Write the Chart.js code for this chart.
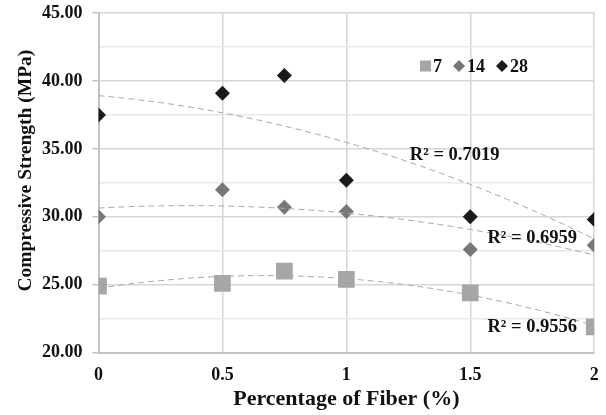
<!DOCTYPE html>
<html>
<head>
<meta charset="utf-8">
<script src="https://cdn.jsdelivr.net/npm/chart.js@4"></script>
<style>
  html, body { margin: 0; padding: 0; background: #fff; }
  #wrap { width: 606px; height: 415px; }
</style>
</head>
<body>
<div id="wrap"><canvas id="strengthChart" width="606" height="415"></canvas></div>
<script>
// data
let fiberPct = [0, 0.5, 0.75, 1, 1.5, 2]
let strength7 = [24.9, 25.1, 26.0, 25.4, 24.4, 21.9]
let strength14 = [30.0, 32.0, 30.7, 30.4, 27.6, 27.9]
let strength28 = [37.5, 39.1, 40.4, 32.7, 30.0, 29.8]
let seriesNames = ["7", "14", "28"]
let rSquared = ["0.9556", "0.6959", "0.7019"]
let xTicks = [0, 0.5, 1, 1.5, 2]

let FONT = "'Liberation Serif', 'Times New Roman', serif"

// least squares 2nd order fit (same as the excel trendline)
function polyFit2(xs, ys) {
	let s = [0, 0, 0, 0, 0], t = [0, 0, 0]
	for (let i = 0; i < xs.length; i++) {
		for (let k = 0; k < 5; k++) s[k] += Math.pow(xs[i], k)
		for (let k = 0; k < 3; k++) t[k] += ys[i] * Math.pow(xs[i], k)
	}
	let m = [[s[0], s[1], s[2], t[0]], [s[1], s[2], s[3], t[1]], [s[2], s[3], s[4], t[2]]]
	for (let c = 0; c < 3; c++) {
		for (let r = c + 1; r < 3; r++) {
			let f = m[r][c] / m[c][c]
			for (let k = c; k < 4; k++) m[r][k] -= f * m[c][k]
		}
	}
	let a = [0, 0, 0]
	for (let r = 2; r >= 0; r--) {
		let v = m[r][3]
		for (let k = r + 1; k < 3; k++) v -= m[r][k] * a[k]
		a[r] = v / m[r][r]
	}
	return a
}

function trendPoints(ys) {
	let a = polyFit2(fiberPct, ys)
	let pts = []
	let x0 = fiberPct[0], x1 = fiberPct[fiberPct.length - 1]
	for (let i = 0; i <= 80; i++) {
		let x = x0 + (x1 - x0) * i / 80
		pts.push({ x: x, y: a[0] + a[1] * x + a[2] * x * x })
	}
	return pts
}

function toPoints(ys) {
	return fiberPct.map((x, i) => ({ x: x, y: ys[i] }))
}

let trendStyle = {
	type: 'line',
	showLine: true,
	borderColor: '#a8a8a8',
	borderWidth: 1,
	borderDash: [6, 4],
	pointRadius: 0,
	fill: false,
	tension: 0
}

// R² boxes + the little legend in the top right
let labelPlugin = {
	id: 'labels',
	afterDraw(chart) {
		let ctx = chart.ctx
		let xs = chart.scales.x, ys = chart.scales.y
		ctx.save()
		ctx.fillStyle = '#111'
		ctx.font = "bold 18.5px " + FONT
		ctx.textBaseline = 'middle'
		ctx.textAlign = 'center'
		let spots = [[1.75, 21.9], [1.75, 28.4], [1.437, 34.55]]
		rSquared.forEach((r, i) => {
			ctx.fillText("R² = " + r, xs.getPixelForValue(spots[i][0]), ys.getPixelForValue(spots[i][1]))
		})

		let ly = 66
		ctx.font = "bold 18px " + FONT
		ctx.textAlign = 'left'
		ctx.fillStyle = '#a6a6a6'
		ctx.fillRect(420, ly - 5.5, 11, 11)
		ctx.fillStyle = '#111'
		ctx.fillText(seriesNames[0], 433, ly + 1)
		let diamond = (cx, col) => {
			ctx.fillStyle = col
			ctx.beginPath()
			ctx.moveTo(cx - 6, ly); ctx.lineTo(cx, ly - 6); ctx.lineTo(cx + 6, ly); ctx.lineTo(cx, ly + 6)
			ctx.closePath(); ctx.fill()
		}
		diamond(459, '#777777')
		ctx.fillStyle = '#111'
		ctx.fillText(seriesNames[1], 467, ly + 1)
		diamond(502, '#1a1a1a')
		ctx.fillStyle = '#111'
		ctx.fillText(seriesNames[2], 510, ly + 1)
		ctx.restore()
	}
}

let ctx1 = document.getElementById("strengthChart").getContext('2d')
let strengthChart = new Chart(ctx1, {
	type: 'scatter',
	data: {
		datasets: [
			Object.assign({ label: 'trend ' + seriesNames[0], data: trendPoints(strength7) }, trendStyle),
			Object.assign({ label: 'trend ' + seriesNames[1], data: trendPoints(strength14) }, trendStyle),
			Object.assign({ label: 'trend ' + seriesNames[2], data: trendPoints(strength28) }, trendStyle),
			{
				label: seriesNames[0],
				data: toPoints(strength7),
				pointStyle: 'rect',
				pointRadius: 11.8,
				backgroundColor: '#a6a6a6',
				borderWidth: 0
			}, {
				label: seriesNames[1],
				data: toPoints(strength14),
				pointStyle: 'rectRot',
				pointRadius: 7.5,
				backgroundColor: '#777777',
				borderWidth: 0
			}, {
				label: seriesNames[2],
				data: toPoints(strength28),
				pointStyle: 'rectRot',
				pointRadius: 7.5,
				backgroundColor: '#1a1a1a',
				borderWidth: 0
			}
		]
	},
	options: {
		responsive: false,
		animation: false,
		layout: { padding: { left: 8, right: 11.5, top: 13, bottom: 0 } },
		plugins: {
			legend: { display: false },
			tooltip: { enabled: false }
		},
		scales: {
			x: {
				type: 'linear',
				min: 0,
				max: 2,
				afterBuildTicks: (axis) => { axis.ticks = xTicks.map(v => ({ value: v })) },
				afterFit: (axis) => { axis.height = 62.3 },
				// tick marks hidden, their length just pushes the labels down
				grid: { color: '#d6d6d6', lineWidth: 1.5, tickLength: 11, tickColor: 'rgba(0,0,0,0)' },
				border: { color: '#c4c4c4', width: 2 },
				ticks: {
					padding: 1,
					color: '#111',
					font: { family: FONT, size: 18, weight: 'bold' },
					callback: (v) => String(v)
				},
				title: {
					display: true,
					text: 'Percentage of Fiber (%)',
					color: '#111',
					font: { family: FONT, size: 22, weight: 'bold' },
					padding: { top: 4, bottom: 2 }
				}
			},
			y: {
				min: 20,
				max: 45,
				afterFit: (axis) => { axis.width = 90.5 },
				ticks: {
					stepSize: 2.5,
					padding: 10,
					color: '#111',
					font: { family: FONT, size: 18, weight: 'bold', lineHeight: 0.3 },
					callback: (v) => (v % 5 === 0 ? v.toFixed(2) : '')
				},
				grid: {
					color: (c) => (c.tick && c.tick.value % 5 === 0 ? '#d6d6d6' : '#e8e8e8'),
					tickColor: (c) => (c.tick && c.tick.value % 5 === 0 ? '#c4c4c4' : 'rgba(0,0,0,0)'),
					lineWidth: 1.5,
					tickLength: 6
				},
				border: { color: '#c4c4c4', width: 2 },
				title: {
					display: true,
					text: '     Compressive Strength (MPa)',
					color: '#111',
					font: { family: FONT, size: 19.5, weight: 'bold' },
					padding: { top: 6, bottom: 4 }
				}
			}
		}
	},
	plugins: [labelPlugin]
})
</script>
</body>
</html>
